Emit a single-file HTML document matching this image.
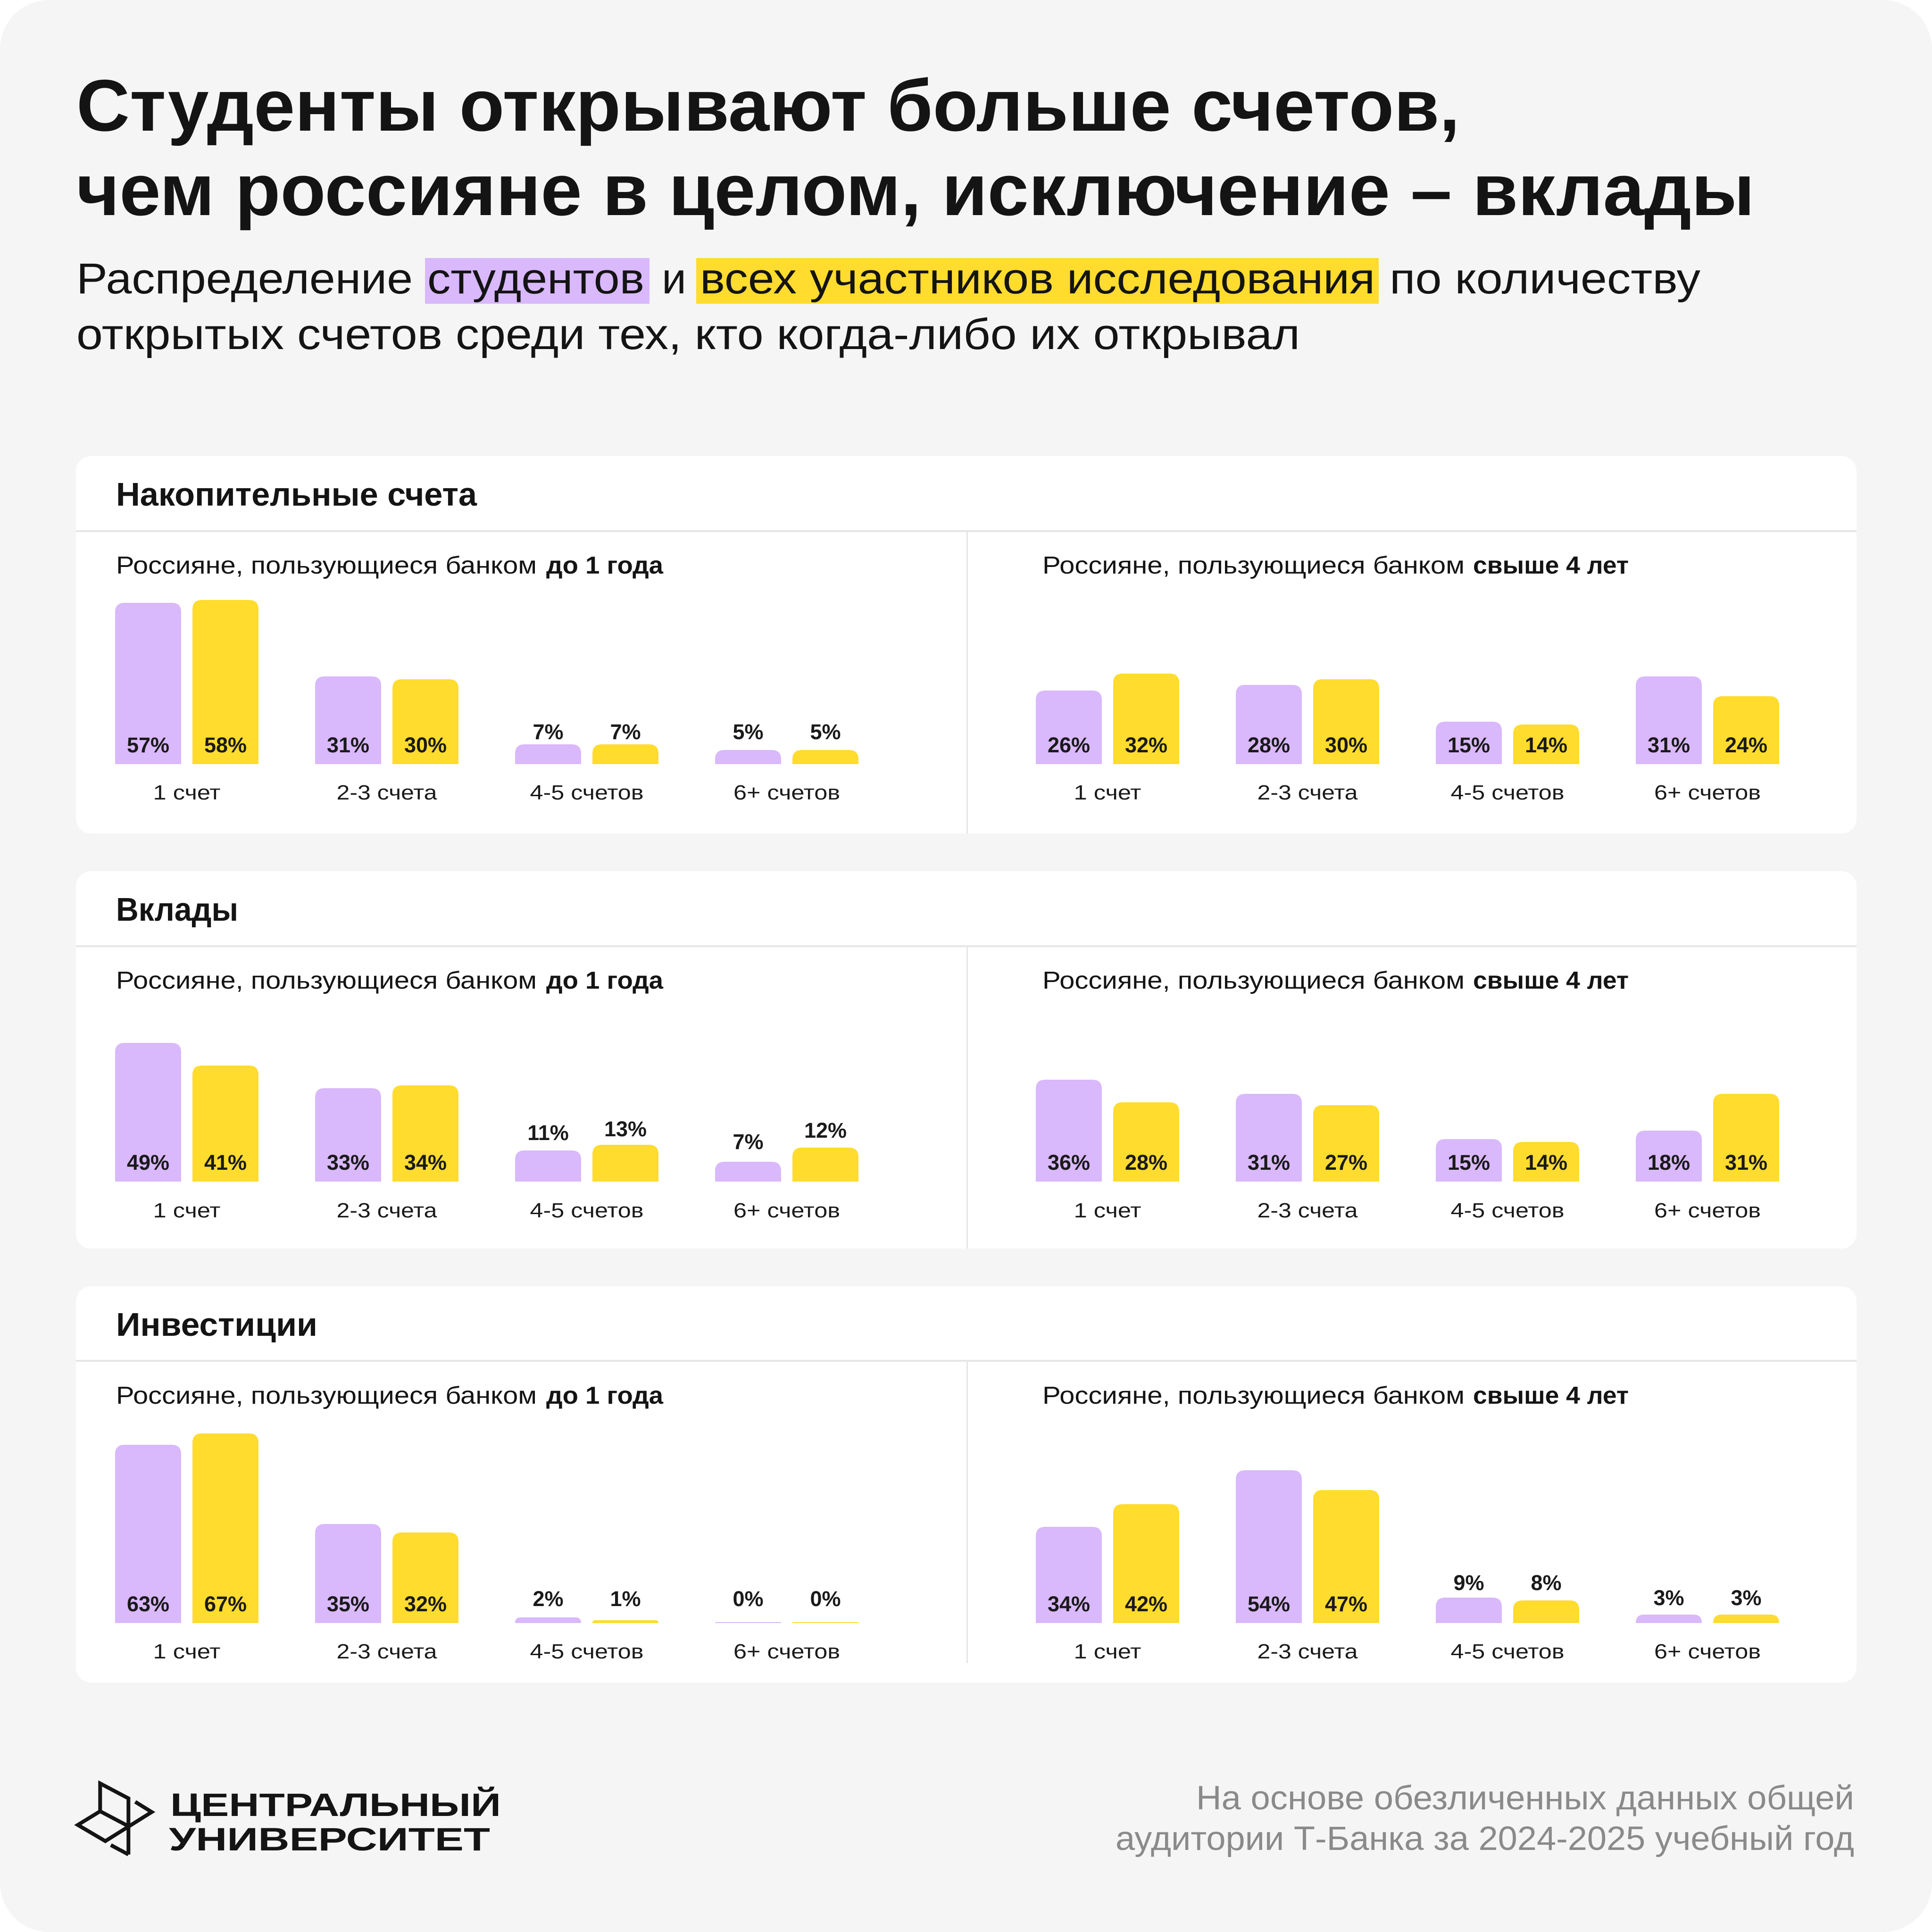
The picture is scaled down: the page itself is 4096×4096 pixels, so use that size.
<!DOCTYPE html>
<html>
<head>
<meta charset="utf-8">
<style>
html,body{margin:0;padding:0;background:#ffffff;}
svg{display:block;}
</style>
</head>
<body>
<svg width="4096" height="4096" viewBox="0 0 4096 4096" xmlns="http://www.w3.org/2000/svg" font-family="'Liberation Sans', 'Noto Sans CJK SC', sans-serif">
  <rect x="0" y="0" width="4096" height="4096" fill="#ffffff"/>
  <rect x="0" y="0" width="4096" height="4096" rx="104" fill="#F5F5F5"/>

  <!-- Title -->
  <g fill="#141414" font-weight="700" font-size="155">
    <text x="162" y="277" textLength="2933" lengthAdjust="spacingAndGlyphs">Студенты открывают больше счетов,</text>
    <text x="162" y="456" textLength="3558" lengthAdjust="spacingAndGlyphs">чем россияне в целом, исключение – вклады</text>
  </g>

  <!-- Subtitle -->
  <rect x="901" y="547" width="476" height="97" fill="#D9B8FC"/>
  <rect x="1476" y="547" width="1447" height="97" fill="#FFDC2D"/>
  <g fill="#141414" font-size="92">
    <text x="162" y="622" textLength="713" lengthAdjust="spacingAndGlyphs">Распределение</text>
    <text x="906" y="622" textLength="460" lengthAdjust="spacingAndGlyphs">студентов</text>
    <text x="1403" y="622" textLength="52" lengthAdjust="spacingAndGlyphs">и</text>
    <text x="1484" y="622" textLength="1431" lengthAdjust="spacingAndGlyphs">всех участников исследования</text>
    <text x="2946" y="622" textLength="659" lengthAdjust="spacingAndGlyphs">по количеству</text>
    <text x="162" y="740" textLength="2594" lengthAdjust="spacingAndGlyphs">открытых счетов среди тех, кто когда-либо их открывал</text>
  </g>

  <!-- Cards -->
  <rect x="161" y="967" width="3775" height="800" rx="32" fill="#ffffff"/>
  <rect x="161" y="1847" width="3775" height="800" rx="32" fill="#ffffff"/>
  <rect x="161" y="2727" width="3775" height="840" rx="32" fill="#ffffff"/>

  <g fill="#E6E6E6">
    <rect x="161" y="1124" width="3775" height="4"/>
    <rect x="161" y="2004" width="3775" height="4"/>
    <rect x="161" y="2883" width="3775" height="4"/>
    <rect x="2049" y="1128" width="3" height="639"/>
    <rect x="2049" y="2008" width="3" height="639"/>
    <rect x="2049" y="2887" width="3" height="639"/>
  </g>

  <!-- Card headers -->
  <g fill="#141414" font-weight="700" font-size="70">
    <text x="246" y="1072" textLength="765" lengthAdjust="spacingAndGlyphs">Накопительные счета</text>
    <text x="246" y="1952" textLength="259" lengthAdjust="spacingAndGlyphs">Вклады</text>
    <text x="246" y="2832" textLength="427" lengthAdjust="spacingAndGlyphs">Инвестиции</text>
  </g>

  <!-- Subheadings -->
  <g fill="#141414" font-size="52">
    <text x="246" y="1216" textLength="892" lengthAdjust="spacingAndGlyphs">Россияне, пользующиеся банком</text>
    <text x="1158" y="1216" textLength="248" lengthAdjust="spacingAndGlyphs" font-weight="700">до 1 года</text>
    <text x="2210" y="1216" textLength="895" lengthAdjust="spacingAndGlyphs">Россияне, пользующиеся банком</text>
    <text x="3123" y="1216" textLength="330" lengthAdjust="spacingAndGlyphs" font-weight="700">свыше 4 лет</text>

    <text x="246" y="2096" textLength="892" lengthAdjust="spacingAndGlyphs">Россияне, пользующиеся банком</text>
    <text x="1158" y="2096" textLength="248" lengthAdjust="spacingAndGlyphs" font-weight="700">до 1 года</text>
    <text x="2210" y="2096" textLength="895" lengthAdjust="spacingAndGlyphs">Россияне, пользующиеся банком</text>
    <text x="3123" y="2096" textLength="330" lengthAdjust="spacingAndGlyphs" font-weight="700">свыше 4 лет</text>

    <text x="246" y="2976" textLength="892" lengthAdjust="spacingAndGlyphs">Россияне, пользующиеся банком</text>
    <text x="1158" y="2976" textLength="248" lengthAdjust="spacingAndGlyphs" font-weight="700">до 1 года</text>
    <text x="2210" y="2976" textLength="895" lengthAdjust="spacingAndGlyphs">Россияне, пользующиеся банком</text>
    <text x="3123" y="2976" textLength="330" lengthAdjust="spacingAndGlyphs" font-weight="700">свыше 4 лет</text>
  </g>

  <!-- Purple bars -->
  <g fill="#D9B8FC">
    <path d="M244 1620V1298Q244 1278 264 1278H364Q384 1278 384 1298V1620Z"/>
    <path d="M668 1620V1454Q668 1434 688 1434H788Q808 1434 808 1454V1620Z"/>
    <path d="M1092 1620V1598Q1092 1578 1112 1578H1212Q1232 1578 1232 1598V1620Z"/>
    <path d="M1516 1620V1610Q1516 1590 1536 1590H1636Q1656 1590 1656 1610V1620Z"/>
    <path d="M2196 1620V1484Q2196 1464 2216 1464H2316Q2336 1464 2336 1484V1620Z"/>
    <path d="M2620 1620V1472Q2620 1452 2640 1452H2740Q2760 1452 2760 1472V1620Z"/>
    <path d="M3044 1620V1550Q3044 1530 3064 1530H3164Q3184 1530 3184 1550V1620Z"/>
    <path d="M3468 1620V1454Q3468 1434 3488 1434H3588Q3608 1434 3608 1454V1620Z"/>

    <path d="M244 2505V2231Q244 2211 264 2211H364Q384 2211 384 2231V2505Z"/>
    <path d="M668 2505V2327Q668 2307 688 2307H788Q808 2307 808 2327V2505Z"/>
    <path d="M1092 2505V2459Q1092 2439 1112 2439H1212Q1232 2439 1232 2459V2505Z"/>
    <path d="M1516 2505V2483Q1516 2463 1536 2463H1636Q1656 2463 1656 2483V2505Z"/>
    <path d="M2196 2505V2309Q2196 2289 2216 2289H2316Q2336 2289 2336 2309V2505Z"/>
    <path d="M2620 2505V2339Q2620 2319 2640 2319H2740Q2760 2319 2760 2339V2505Z"/>
    <path d="M3044 2505V2435Q3044 2415 3064 2415H3164Q3184 2415 3184 2435V2505Z"/>
    <path d="M3468 2505V2417Q3468 2397 3488 2397H3588Q3608 2397 3608 2417V2505Z"/>

    <path d="M244 3441V3083Q244 3063 264 3063H364Q384 3063 384 3083V3441Z"/>
    <path d="M668 3441V3251Q668 3231 688 3231H788Q808 3231 808 3251V3441Z"/>
    <path d="M1092 3441Q1092 3429 1104 3429H1220Q1232 3429 1232 3441Z"/>
    <rect x="1516" y="3439" width="140" height="2"/>
    <path d="M2196 3441V3257Q2196 3237 2216 3237H2316Q2336 3237 2336 3257V3441Z"/>
    <path d="M2620 3441V3137Q2620 3117 2640 3117H2740Q2760 3117 2760 3137V3441Z"/>
    <path d="M3044 3441V3407Q3044 3387 3064 3387H3164Q3184 3387 3184 3407V3441Z"/>
    <path d="M3468 3441Q3468 3423 3486 3423H3590Q3608 3423 3608 3441Z"/>
  </g>

  <!-- Yellow bars -->
  <g fill="#FFDC2D">
    <path d="M408 1620V1292Q408 1272 428 1272H528Q548 1272 548 1292V1620Z"/>
    <path d="M832 1620V1460Q832 1440 852 1440H952Q972 1440 972 1460V1620Z"/>
    <path d="M1256 1620V1598Q1256 1578 1276 1578H1376Q1396 1578 1396 1598V1620Z"/>
    <path d="M1680 1620V1610Q1680 1590 1700 1590H1800Q1820 1590 1820 1610V1620Z"/>
    <path d="M2360 1620V1448Q2360 1428 2380 1428H2480Q2500 1428 2500 1448V1620Z"/>
    <path d="M2784 1620V1460Q2784 1440 2804 1440H2904Q2924 1440 2924 1460V1620Z"/>
    <path d="M3208 1620V1556Q3208 1536 3228 1536H3328Q3348 1536 3348 1556V1620Z"/>
    <path d="M3632 1620V1496Q3632 1476 3652 1476H3752Q3772 1476 3772 1496V1620Z"/>

    <path d="M408 2505V2279Q408 2259 428 2259H528Q548 2259 548 2279V2505Z"/>
    <path d="M832 2505V2321Q832 2301 852 2301H952Q972 2301 972 2321V2505Z"/>
    <path d="M1256 2505V2447Q1256 2427 1276 2427H1376Q1396 2427 1396 2447V2505Z"/>
    <path d="M1680 2505V2453Q1680 2433 1700 2433H1800Q1820 2433 1820 2453V2505Z"/>
    <path d="M2360 2505V2357Q2360 2337 2380 2337H2480Q2500 2337 2500 2357V2505Z"/>
    <path d="M2784 2505V2363Q2784 2343 2804 2343H2904Q2924 2343 2924 2363V2505Z"/>
    <path d="M3208 2505V2441Q3208 2421 3228 2421H3328Q3348 2421 3348 2441V2505Z"/>
    <path d="M3632 2505V2339Q3632 2319 3652 2319H3752Q3772 2319 3772 2339V2505Z"/>

    <path d="M408 3441V3059Q408 3039 428 3039H528Q548 3039 548 3059V3441Z"/>
    <path d="M832 3441V3269Q832 3249 852 3249H952Q972 3249 972 3269V3441Z"/>
    <path d="M1256 3441Q1256 3435 1262 3435H1390Q1396 3435 1396 3441Z"/>
    <rect x="1680" y="3439" width="140" height="2"/>
    <path d="M2360 3441V3209Q2360 3189 2380 3189H2480Q2500 3189 2500 3209V3441Z"/>
    <path d="M2784 3441V3179Q2784 3159 2804 3159H2904Q2924 3159 2924 3179V3441Z"/>
    <path d="M3208 3441V3413Q3208 3393 3228 3393H3328Q3348 3393 3348 3413V3441Z"/>
    <path d="M3632 3441Q3632 3423 3650 3423H3754Q3772 3423 3772 3441Z"/>
  </g>

  <!-- Value labels -->
  <g fill="#1A1A1A" font-weight="700" font-size="45" text-anchor="middle">
    <!-- Panel 1 -->
    <text x="314" y="1595">57%</text>
    <text x="478" y="1595">58%</text>
    <text x="738" y="1595">31%</text>
    <text x="902" y="1595">30%</text>
    <text x="1162" y="1567">7%</text>
    <text x="1326" y="1567">7%</text>
    <text x="1586" y="1567">5%</text>
    <text x="1750" y="1567">5%</text>
    <text x="2266" y="1595">26%</text>
    <text x="2430" y="1595">32%</text>
    <text x="2690" y="1595">28%</text>
    <text x="2854" y="1595">30%</text>
    <text x="3114" y="1595">15%</text>
    <text x="3278" y="1595">14%</text>
    <text x="3538" y="1595">31%</text>
    <text x="3702" y="1595">24%</text>
    <!-- Panel 2 -->
    <text x="314" y="2480">49%</text>
    <text x="478" y="2480">41%</text>
    <text x="738" y="2480">33%</text>
    <text x="902" y="2480">34%</text>
    <text x="1162" y="2417">11%</text>
    <text x="1326" y="2409">13%</text>
    <text x="1586" y="2436">7%</text>
    <text x="1750" y="2412">12%</text>
    <text x="2266" y="2480">36%</text>
    <text x="2430" y="2480">28%</text>
    <text x="2690" y="2480">31%</text>
    <text x="2854" y="2480">27%</text>
    <text x="3114" y="2480">15%</text>
    <text x="3278" y="2480">14%</text>
    <text x="3538" y="2480">18%</text>
    <text x="3702" y="2480">31%</text>
    <!-- Panel 3 -->
    <text x="314" y="3416">63%</text>
    <text x="478" y="3416">67%</text>
    <text x="738" y="3416">35%</text>
    <text x="902" y="3416">32%</text>
    <text x="1162" y="3405">2%</text>
    <text x="1326" y="3405">1%</text>
    <text x="1586" y="3405">0%</text>
    <text x="1750" y="3405">0%</text>
    <text x="2266" y="3416">34%</text>
    <text x="2430" y="3416">42%</text>
    <text x="2690" y="3416">54%</text>
    <text x="2854" y="3416">47%</text>
    <text x="3114" y="3371">9%</text>
    <text x="3278" y="3371">8%</text>
    <text x="3538" y="3403">3%</text>
    <text x="3702" y="3403">3%</text>
  </g>

  <!-- Category labels -->
  <g fill="#1A1A1A" font-size="44" text-anchor="middle">
    <text x="396" y="1695" textLength="143" lengthAdjust="spacingAndGlyphs">1 счет</text>
    <text x="820" y="1695" textLength="213" lengthAdjust="spacingAndGlyphs">2-3 счета</text>
    <text x="1244" y="1695" textLength="241" lengthAdjust="spacingAndGlyphs">4-5 счетов</text>
    <text x="1668" y="1695" textLength="226" lengthAdjust="spacingAndGlyphs">6+ счетов</text>
    <text x="2348" y="1695" textLength="143" lengthAdjust="spacingAndGlyphs">1 счет</text>
    <text x="2772" y="1695" textLength="213" lengthAdjust="spacingAndGlyphs">2-3 счета</text>
    <text x="3196" y="1695" textLength="241" lengthAdjust="spacingAndGlyphs">4-5 счетов</text>
    <text x="3620" y="1695" textLength="226" lengthAdjust="spacingAndGlyphs">6+ счетов</text>

    <text x="396" y="2581" textLength="143" lengthAdjust="spacingAndGlyphs">1 счет</text>
    <text x="820" y="2581" textLength="213" lengthAdjust="spacingAndGlyphs">2-3 счета</text>
    <text x="1244" y="2581" textLength="241" lengthAdjust="spacingAndGlyphs">4-5 счетов</text>
    <text x="1668" y="2581" textLength="226" lengthAdjust="spacingAndGlyphs">6+ счетов</text>
    <text x="2348" y="2581" textLength="143" lengthAdjust="spacingAndGlyphs">1 счет</text>
    <text x="2772" y="2581" textLength="213" lengthAdjust="spacingAndGlyphs">2-3 счета</text>
    <text x="3196" y="2581" textLength="241" lengthAdjust="spacingAndGlyphs">4-5 счетов</text>
    <text x="3620" y="2581" textLength="226" lengthAdjust="spacingAndGlyphs">6+ счетов</text>

    <text x="396" y="3516" textLength="143" lengthAdjust="spacingAndGlyphs">1 счет</text>
    <text x="820" y="3516" textLength="213" lengthAdjust="spacingAndGlyphs">2-3 счета</text>
    <text x="1244" y="3516" textLength="241" lengthAdjust="spacingAndGlyphs">4-5 счетов</text>
    <text x="1668" y="3516" textLength="226" lengthAdjust="spacingAndGlyphs">6+ счетов</text>
    <text x="2348" y="3516" textLength="143" lengthAdjust="spacingAndGlyphs">1 счет</text>
    <text x="2772" y="3516" textLength="213" lengthAdjust="spacingAndGlyphs">2-3 счета</text>
    <text x="3196" y="3516" textLength="241" lengthAdjust="spacingAndGlyphs">4-5 счетов</text>
    <text x="3620" y="3516" textLength="226" lengthAdjust="spacingAndGlyphs">6+ счетов</text>
  </g>

  <!-- Logo icon -->
  <g fill="none" stroke="#141414" stroke-width="8" stroke-linejoin="miter" stroke-linecap="butt">
    <polyline points="212.3,3840 212.3,3781 272.3,3812.7 272.3,3931.7"/>
    <line x1="212.3" y1="3840" x2="272.3" y2="3871.7"/>
    <polyline points="212.3,3840 165,3869 223.3,3903.3 321.7,3841.7 286.7,3820"/>
    <line x1="235" y1="3911.7" x2="272.3" y2="3931.7"/>
  </g>
  <!-- Logo text -->
  <g fill="#141414" font-weight="700" font-size="69">
    <text x="361" y="3850" textLength="701" lengthAdjust="spacingAndGlyphs">ЦЕНТРАЛЬНЫЙ</text>
    <text x="358" y="3923" textLength="681" lengthAdjust="spacingAndGlyphs">УНИВЕРСИТЕТ</text>
  </g>

  <!-- Footer note -->
  <g fill="#8A8A8A" font-size="71">
    <text x="2536" y="3836" textLength="1395" lengthAdjust="spacingAndGlyphs">На основе обезличенных данных общей</text>
    <text x="2365" y="3922" textLength="1566" lengthAdjust="spacingAndGlyphs">аудитории Т-Банка за 2024-2025 учебный год</text>
  </g>
</svg>
</body>
</html>
